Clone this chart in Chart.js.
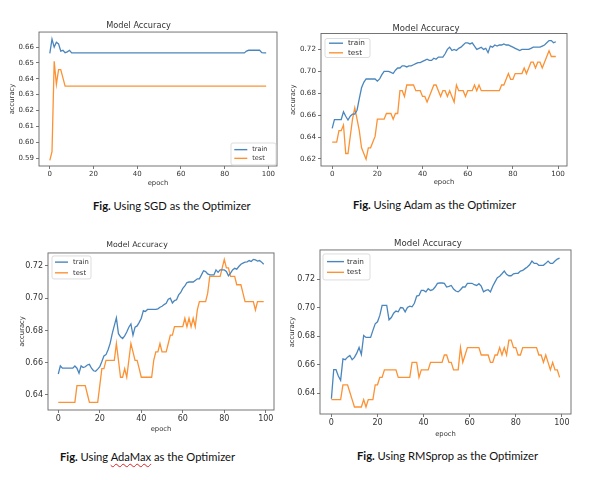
<!DOCTYPE html>
<html>
<head>
<meta charset="utf-8">
<script src="https://cdn.jsdelivr.net/npm/chart.js@4.4.0/dist/chart.umd.min.js"></script>
<style>
  html, body { margin: 0; padding: 0; background: #fff; }
  #page { position: relative; width: 596px; height: 480px; overflow: hidden; }
  canvas { position: absolute; }
  .cap { position: absolute; font-family: Lato, "Open Sans", sans-serif; font-size: 11.2px; line-height: 13px; color: #111; white-space: nowrap; }
  .cap b { font-weight: 700; }
  .squiggle { text-decoration: underline wavy #e02020; text-decoration-thickness: 1px; text-underline-offset: 2px; }
</style>
</head>
<body>
<div id="page">
  <canvas id="sgd"></canvas>
  <canvas id="adam"></canvas>
  <canvas id="adamax"></canvas>
  <canvas id="rms"></canvas>
  <div class="cap" id="cap1"><b>Fig.</b> Using SGD as the Optimizer</div>
  <div class="cap" id="cap2"><b>Fig.</b> Using Adam as the Optimizer</div>
  <div class="cap" id="cap3"><b>Fig.</b> Using <span class="squiggle">AdaMax</span> as the Optimizer</div>
  <div class="cap" id="cap4"><b>Fig.</b> Using RMSprop as the Optimizer</div>
</div>
<script>
// epochs 0..99 on the x axis
const epochs = Array.from({ length: 100 }, (_, i) => i);
const xTicks = [0, 20, 40, 60, 80, 100];
const seriesLabels = ['train', 'test'];

const sgdYTicks = [0.59, 0.60, 0.61, 0.62, 0.63, 0.64, 0.65, 0.66];
const adamYTicks = [0.62, 0.64, 0.66, 0.68, 0.70, 0.72];
const adamaxYTicks = [0.64, 0.66, 0.68, 0.70, 0.72];
const rmsYTicks = [0.64, 0.66, 0.68, 0.70, 0.72];

// SGD
const sgdTrain = [
  0.656, 0.665, 0.660, 0.663, 0.662, 0.6575, 0.658, 0.6565, 0.657, 0.658,
  0.6563, 0.6563, 0.6563, 0.6563, 0.6563, 0.6563, 0.6563, 0.6563, 0.6563, 0.6563,
  0.6563, 0.6563, 0.6563, 0.6563, 0.6563, 0.6563, 0.6563, 0.6563, 0.6563, 0.6563,
  0.6563, 0.6563, 0.6563, 0.6563, 0.6563, 0.6563, 0.6563, 0.6563, 0.6563, 0.6563,
  0.6563, 0.6563, 0.6563, 0.6563, 0.6563, 0.6563, 0.6563, 0.6563, 0.6563, 0.6563,
  0.6563, 0.6563, 0.6563, 0.6563, 0.6563, 0.6563, 0.6563, 0.6563, 0.6563, 0.6563,
  0.6563, 0.6563, 0.6563, 0.6563, 0.6563, 0.6563, 0.6563, 0.6563, 0.6563, 0.6563,
  0.6563, 0.6563, 0.6563, 0.6563, 0.6563, 0.6563, 0.6563, 0.6563, 0.6563, 0.6563,
  0.6563, 0.6563, 0.6563, 0.6563, 0.6563, 0.6563, 0.6563, 0.6563, 0.6563, 0.6563,
  0.6575, 0.658, 0.658, 0.658, 0.658, 0.658, 0.658, 0.6565, 0.6563, 0.6563
];
const sgdTest = [
  0.5885, 0.594, 0.651, 0.6365, 0.6458, 0.6458, 0.6406, 0.6354, 0.6354, 0.6354,
  0.6354, 0.6354, 0.6354, 0.6354, 0.6354, 0.6354, 0.6354, 0.6354, 0.6354, 0.6354,
  0.6354, 0.6354, 0.6354, 0.6354, 0.6354, 0.6354, 0.6354, 0.6354, 0.6354, 0.6354,
  0.6354, 0.6354, 0.6354, 0.6354, 0.6354, 0.6354, 0.6354, 0.6354, 0.6354, 0.6354,
  0.6354, 0.6354, 0.6354, 0.6354, 0.6354, 0.6354, 0.6354, 0.6354, 0.6354, 0.6354,
  0.6354, 0.6354, 0.6354, 0.6354, 0.6354, 0.6354, 0.6354, 0.6354, 0.6354, 0.6354,
  0.6354, 0.6354, 0.6354, 0.6354, 0.6354, 0.6354, 0.6354, 0.6354, 0.6354, 0.6354,
  0.6354, 0.6354, 0.6354, 0.6354, 0.6354, 0.6354, 0.6354, 0.6354, 0.6354, 0.6354,
  0.6354, 0.6354, 0.6354, 0.6354, 0.6354, 0.6354, 0.6354, 0.6354, 0.6354, 0.6354,
  0.6354, 0.6354, 0.6354, 0.6354, 0.6354, 0.6354, 0.6354, 0.6354, 0.6354, 0.6354
];

// Adam
const adamTrain = [
  0.648, 0.656, 0.656, 0.656, 0.656, 0.663, 0.659, 0.6555, 0.659, 0.661,
  0.661, 0.6645, 0.675, 0.685, 0.690, 0.693, 0.693, 0.693, 0.693, 0.693,
  0.691, 0.693, 0.697, 0.700, 0.700, 0.700, 0.699, 0.698, 0.701, 0.703,
  0.703, 0.705, 0.705, 0.704, 0.705, 0.705, 0.706, 0.707, 0.708, 0.708,
  0.709, 0.710, 0.711, 0.710, 0.710, 0.712, 0.711, 0.713, 0.713, 0.713,
  0.716, 0.720, 0.722, 0.719, 0.720, 0.719, 0.721, 0.722, 0.724, 0.726,
  0.726, 0.725, 0.726, 0.723, 0.720, 0.721, 0.722, 0.720, 0.721, 0.717,
  0.723, 0.722, 0.724, 0.723, 0.724, 0.724, 0.725, 0.724, 0.724, 0.723,
  0.722, 0.721, 0.720, 0.719, 0.720, 0.720, 0.720, 0.720, 0.721, 0.722,
  0.722, 0.722, 0.722, 0.723, 0.724, 0.726, 0.728, 0.728, 0.726, 0.727
];
const adamTest = [
  0.6354, 0.6354, 0.6354, 0.6458, 0.6458, 0.651, 0.625, 0.625, 0.6406, 0.6563,
  0.6667, 0.6563, 0.6458, 0.6302, 0.625, 0.6198, 0.6302, 0.6302, 0.6354, 0.6406,
  0.6563, 0.6563, 0.6563, 0.6563, 0.6615, 0.6615, 0.6615, 0.6563, 0.6615, 0.6615,
  0.6823, 0.6823, 0.6771, 0.6875, 0.6875, 0.6875, 0.6875, 0.6823, 0.6823, 0.6823,
  0.6771, 0.6771, 0.6719, 0.6771, 0.6823, 0.6875, 0.6875, 0.6823, 0.6771, 0.6823,
  0.6823, 0.6771, 0.6823, 0.6771, 0.6719, 0.6875, 0.6823, 0.6823, 0.6823, 0.6771,
  0.6823, 0.6823, 0.6823, 0.6875, 0.6823, 0.6875, 0.6823, 0.6823, 0.6823, 0.6823,
  0.6823, 0.6823, 0.6823, 0.6823, 0.6823, 0.6875, 0.6875, 0.6927, 0.6979, 0.6927,
  0.6927, 0.6979, 0.6979, 0.6979, 0.6979, 0.7031, 0.6979, 0.7031, 0.7083, 0.7083,
  0.7031, 0.7083, 0.7083, 0.7031, 0.7083, 0.7135, 0.7188, 0.7135, 0.7135, 0.7135
];

// AdaMax
const adamaxTrain = [
  0.653, 0.658, 0.6566, 0.6566, 0.6566, 0.6566, 0.6566, 0.6566, 0.658, 0.6566,
  0.6535, 0.658, 0.657, 0.6575, 0.6586, 0.659, 0.6566, 0.655, 0.6547, 0.656,
  0.6575, 0.6607, 0.6642, 0.665, 0.668, 0.672, 0.678, 0.683, 0.6878, 0.678,
  0.676, 0.675, 0.6766, 0.679, 0.682, 0.684, 0.677, 0.682, 0.6828, 0.685,
  0.6876, 0.6923, 0.6917, 0.693, 0.693, 0.693, 0.693, 0.693, 0.6934, 0.6944,
  0.695, 0.696, 0.6968, 0.6993, 0.700, 0.697, 0.6985, 0.699, 0.702, 0.7035,
  0.706, 0.7076, 0.7097, 0.710, 0.710, 0.710, 0.711, 0.712, 0.712, 0.7144,
  0.717, 0.7165, 0.715, 0.7144, 0.7144, 0.7144, 0.7175, 0.716, 0.7175, 0.7175,
  0.7175, 0.7165, 0.7138, 0.7155, 0.7175, 0.7185, 0.718, 0.7196, 0.721, 0.7217,
  0.7223, 0.7225, 0.7233, 0.7227, 0.724, 0.7237, 0.723, 0.7233, 0.7223, 0.721
];
const adamaxTest = [
  0.6354, 0.6354, 0.6354, 0.6354, 0.6354, 0.6354, 0.6354, 0.6354, 0.6354, 0.6458,
  0.6458, 0.6458, 0.6458, 0.6458, 0.6406, 0.6354, 0.6354, 0.6354, 0.6354, 0.6354,
  0.6458, 0.6563, 0.6563, 0.6615, 0.6615, 0.6615, 0.6615, 0.6615, 0.6719, 0.6615,
  0.651, 0.651, 0.6563, 0.651, 0.6615, 0.6719, 0.6667, 0.6615, 0.6615, 0.6563,
  0.651, 0.651, 0.651, 0.651, 0.651, 0.651, 0.6615, 0.6667, 0.6667, 0.6719,
  0.6667, 0.6667, 0.6667, 0.6719, 0.6771, 0.6771, 0.6823, 0.6823, 0.6823, 0.6823,
  0.6823, 0.6875, 0.6823, 0.6875, 0.6823, 0.6875, 0.6823, 0.6927, 0.6979, 0.6979,
  0.6979, 0.6979, 0.7031, 0.7135, 0.7135, 0.7135, 0.7135, 0.7135, 0.7135, 0.7188,
  0.724, 0.7188, 0.7188, 0.7135, 0.7135, 0.7135, 0.7083, 0.7083, 0.7083, 0.7031,
  0.6979, 0.6979, 0.6979, 0.6979, 0.6979, 0.6927, 0.6979, 0.6979, 0.6979, 0.6979
];

// RMSprop
const rmsTrain = [
  0.636, 0.6564, 0.6564, 0.652, 0.649, 0.664, 0.6634, 0.6652, 0.6664, 0.6634,
  0.665, 0.668, 0.672, 0.667, 0.6804, 0.679, 0.679, 0.679, 0.684, 0.6886,
  0.690, 0.6945, 0.7015, 0.7015, 0.7015, 0.6914, 0.693, 0.696, 0.6975, 0.697,
  0.700, 0.6998, 0.697, 0.700, 0.701, 0.7005, 0.703, 0.708, 0.7085, 0.712,
  0.712, 0.711, 0.7132, 0.712, 0.7125, 0.7144, 0.717, 0.7172, 0.7172, 0.717,
  0.7144, 0.7148, 0.7155, 0.713, 0.7116, 0.711, 0.7125, 0.7144, 0.7144, 0.717,
  0.717, 0.717, 0.716, 0.7155, 0.7167, 0.715, 0.711, 0.712, 0.7125, 0.711,
  0.715, 0.718, 0.721, 0.722, 0.7237, 0.7256, 0.7233, 0.7223, 0.7223, 0.7237,
  0.724, 0.724, 0.7256, 0.726, 0.7273, 0.7284, 0.730, 0.7326, 0.731, 0.731,
  0.7296, 0.7296, 0.7296, 0.731, 0.7326, 0.731, 0.731, 0.7326, 0.734, 0.7347
];
const rmsTest = [
  0.6354, 0.6354, 0.6354, 0.6354, 0.6354, 0.6458, 0.6458, 0.6458, 0.6406, 0.6354,
  0.6302, 0.6302, 0.6302, 0.6302, 0.6354, 0.6302, 0.6354, 0.6354, 0.6354, 0.6458,
  0.6458, 0.651, 0.651, 0.6563, 0.6563, 0.6563, 0.6563, 0.6563, 0.6563, 0.651,
  0.651, 0.651, 0.651, 0.651, 0.651, 0.6615, 0.6615, 0.6615, 0.651, 0.6563,
  0.6563, 0.6563, 0.6563, 0.6615, 0.6615, 0.6615, 0.6615, 0.6615, 0.6615, 0.6667,
  0.6667, 0.6615, 0.6615, 0.6563, 0.6563, 0.6563, 0.6719, 0.6615, 0.6667, 0.6719,
  0.6719, 0.6719, 0.6719, 0.6719, 0.6719, 0.6667, 0.6667, 0.6667, 0.6667, 0.6615,
  0.6615, 0.6667, 0.6667, 0.6719, 0.6667, 0.6719, 0.6667, 0.6771, 0.6771, 0.6719,
  0.6719, 0.6667, 0.6667, 0.6719, 0.6719, 0.6719, 0.6719, 0.6719, 0.6719, 0.6719,
  0.6667, 0.6667, 0.6615, 0.6667, 0.6615, 0.6563, 0.6615, 0.6563, 0.6563, 0.651
];

const BLUE = 'rgb(74,134,189)';
const ORANGE = 'rgb(252,146,52)';
const FONT = "'DejaVu Sans', sans-serif";

const toPoints = (vals) => vals.map((v, i) => ({ x: epochs[i], y: v }));

// box round the plot area, like the matplotlib spines
const frame = {
  id: 'frame',
  afterDatasetsDraw(chart) {
    const { ctx, chartArea: a } = chart;
    ctx.save();
    ctx.strokeStyle = '#666';
    ctx.lineWidth = 0.9;
    ctx.strokeRect(a.left, a.top, a.right - a.left, a.bottom - a.top);
    ctx.restore();
  }
};

// small legend box inside the plot
const boxLegend = {
  id: 'boxLegend',
  afterDraw(chart, args, o) {
    if (!o || !o.w) return;
    const { ctx, chartArea: a } = chart;
    const x = o.pos === 'ul' ? a.left + o.gx : a.right - o.gx - o.w;
    const y = o.pos === 'ul' ? a.top + o.gy : a.bottom - o.gy - o.h;
    ctx.save();
    ctx.beginPath();
    ctx.roundRect(x, y, o.w, o.h, 2);
    ctx.fillStyle = 'rgba(255,255,255,0.85)';
    ctx.fill();
    ctx.strokeStyle = '#d4d4d4';
    ctx.lineWidth = 0.8;
    ctx.stroke();
    chart.data.datasets.forEach((ds, i) => {
      const cy = y + o.h / 2 + (i - 0.5) * o.row;
      ctx.beginPath();
      ctx.strokeStyle = ds.borderColor;
      ctx.lineWidth = 1.4;
      ctx.moveTo(x + o.lx, cy);
      ctx.lineTo(x + o.lx + o.len, cy);
      ctx.stroke();
      ctx.fillStyle = '#333';
      ctx.font = o.fs + 'px ' + FONT;
      ctx.textBaseline = 'middle';
      ctx.fillText(ds.label, x + o.lx + o.len + o.tg, cy);
    });
    ctx.restore();
  }
};

const makeChart = (id, train, test, yTicks, L) => {
  const cv = document.getElementById(id);
  cv.style.left = L.left + 'px';
  cv.style.top = L.top + 'px';
  cv.style.width = L.w + 'px';
  cv.style.height = L.h + 'px';
  cv.width = L.w;
  cv.height = L.h;
  const tickFont = { family: FONT, size: L.tfs };
  const labFont = { family: FONT, size: 6.8 };
  return new Chart(cv.getContext('2d'), {
    type: 'line',
    data: {
      datasets: [
        { label: seriesLabels[0], data: toPoints(train), borderColor: BLUE, borderWidth: 1.3, pointRadius: 0, tension: 0 },
        { label: seriesLabels[1], data: toPoints(test), borderColor: ORANGE, borderWidth: 1.3, pointRadius: 0, tension: 0 }
      ]
    },
    options: {
      responsive: false,
      animation: false,
      devicePixelRatio: window.devicePixelRatio,
      layout: { padding: { left: 0, right: L.pr, top: 0, bottom: 0 } },
      plugins: {
        legend: { display: false },
        tooltip: { enabled: false },
        title: {
          display: true,
          text: 'Model Accuracy',
          color: '#333',
          font: { family: FONT, size: L.titleFs, weight: 'normal' },
          padding: { top: L.titleTop, bottom: L.titleBottom }
        },
        boxLegend: L.legend
      },
      scales: {
        x: {
          type: 'linear',
          min: -4.95,
          max: 103.95,
          afterFit: (s) => { s.height = L.xh; },
          afterBuildTicks: (s) => { s.ticks = xTicks.map(v => ({ value: v })); },
          grid: { drawOnChartArea: false, drawTicks: true, tickLength: 3, tickColor: '#555', tickWidth: 0.8 },
          border: { display: false },
          ticks: { font: tickFont, color: '#333', padding: 1, maxRotation: 0 },
          title: { display: true, text: 'epoch', color: '#333', font: labFont, padding: { top: 0, bottom: 0 } }
        },
        y: {
          min: L.yMin,
          max: L.yMax,
          afterFit: (s) => { s.width = L.yw; },
          afterBuildTicks: (s) => { s.ticks = yTicks.map(v => ({ value: v })); },
          grid: { drawOnChartArea: false, drawTicks: true, tickLength: 3, tickColor: '#555', tickWidth: 0.8 },
          border: { display: false },
          ticks: { font: tickFont, color: '#333', padding: 2, callback: (v) => v.toFixed(2) },
          title: { display: true, text: 'accuracy', color: '#333', font: labFont, padding: { top: L.ylabPad, bottom: 0 } }
        }
      }
    },
    plugins: [frame, boxLegend]
  });
};

makeChart('sgd', sgdTrain, sgdTest, sgdYTicks, {
  left: 0, top: 0, w: 285, h: 187, yw: 39, xh: 21, pr: 8,
  titleFs: 8.2, titleTop: 20.6, titleBottom: 1.6, ylabPad: 7.9, tfs: 7,
  yMin: 0.585, yMax: 0.6695,
  legend: { pos: 'lr', gx: 1, gy: 1, w: 45, h: 22, row: 8.7, lx: 3.3, len: 13, tg: 5, fs: 6.5 }
});

makeChart('adam', adamTrain, adamTest, adamYTicks, {
  left: 285, top: 0, w: 300, h: 186, yw: 36, xh: 20, pr: 18,
  titleFs: 8.5, titleTop: 23.3, titleBottom: 0, ylabPad: 3.9, tfs: 7.2,
  yMin: 0.6136, yMax: 0.7345,
  legend: { pos: 'ul', gx: 4, gy: 5, w: 45, h: 19, row: 9.6, lx: 4, len: 14, tg: 5, fs: 7.3 }
});

makeChart('adamax', adamaxTrain, adamaxTest, adamaxYTicks, {
  left: 0, top: 225, w: 285, h: 208, yw: 48, xh: 23, pr: 11,
  titleFs: 7.8, titleTop: 15.3, titleBottom: 3.3, ylabPad: 17.9, tfs: 8,
  yMin: 0.6307, yMax: 0.728,
  legend: { pos: 'ul', gx: 4, gy: 3, w: 39, h: 23, row: 10.7, lx: 3, len: 13, tg: 5, fs: 6.8 }
});

makeChart('rms', rmsTrain, rmsTest, rmsYTicks, {
  left: 285, top: 225, w: 300, h: 213, yw: 35, xh: 24, pr: 14,
  titleFs: 8.6, titleTop: 13.8, titleBottom: 0.84, ylabPad: 2.9, tfs: 8,
  yMin: 0.6253, yMax: 0.7404,
  legend: { pos: 'ul', gx: 3, gy: 4, w: 47, h: 26, row: 10.7, lx: 4, len: 17, tg: 3, fs: 7.3 }
});

// captions under each plot
const capPos = [
  ['cap1', 93, 205],
  ['cap2', 353, 204],
  ['cap3', 60, 456],
  ['cap4', 357, 455]
];
capPos.forEach(([id, x, cy]) => {
  const el = document.getElementById(id);
  el.style.left = x + 'px';
  el.style.top = (cy - 6.5) + 'px';
});
</script>
</body>
</html>
